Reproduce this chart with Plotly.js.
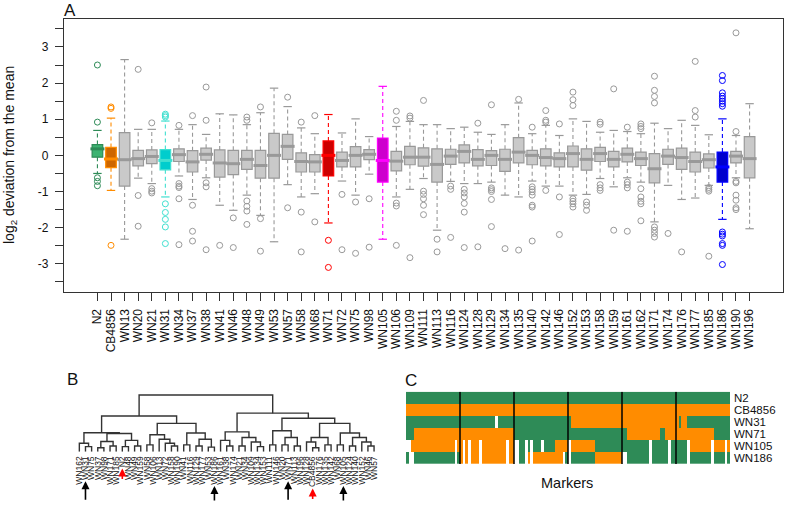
<!DOCTYPE html>
<html><head><meta charset="utf-8">
<script src="https://cdn.plot.ly/plotly-3.0.1.min.js"></script>
<style>html,body{margin:0;padding:0;background:#fff}#chart{width:786px;height:505px}</style>
</head><body><div id="chart"></div>
<script>
// ---------- Panel A data ----------
const strains = ["N2","CB4856","WN13","WN20","WN21","WN31","WN34","WN37","WN38","WN41","WN46","WN48","WN49","WN53","WN57","WN58","WN68","WN71","WN72","WN75","WN98","WN105","WN106","WN109","WN111","WN113","WN116","WN124","WN128","WN129","WN134","WN135","WN140","WN142","WN146","WN152","WN153","WN158","WN159","WN161","WN162","WN171","WN174","WN176","WN177","WN185","WN186","WN190","WN196"];
const q1  = [-0.05,-0.34,-0.85,-0.29,-0.23,-0.40,-0.17,-0.46,-0.13,-0.60,-0.53,-0.39,-0.63,-0.63,-0.11,-0.46,-0.46,-0.57,-0.32,-0.32,-0.12,-0.74,-0.43,-0.26,-0.30,-0.74,-0.25,-0.21,-0.29,-0.28,-0.44,-0.21,-0.26,-0.29,-0.32,-0.32,-0.41,-0.17,-0.32,-0.18,-0.28,-0.76,-0.25,-0.39,-0.46,-0.35,-0.74,-0.21,-0.62];
const med = [0.18,-0.10,-0.12,-0.09,-0.03,-0.14,0.02,-0.18,0.03,-0.21,-0.23,-0.11,-0.28,0.00,0.25,-0.17,-0.18,0.00,-0.14,0.00,0.03,-0.14,-0.16,-0.05,-0.05,-0.25,-0.02,0.11,-0.11,0.00,-0.11,0.09,0.00,-0.06,-0.09,0.05,-0.11,0.05,-0.11,0.03,-0.09,-0.37,-0.02,-0.06,-0.17,-0.12,-0.32,-0.02,-0.09];
const q3  = [0.30,0.22,0.63,0.14,0.15,0.16,0.18,0.13,0.20,0.15,0.14,0.14,0.14,0.61,0.58,0.07,0.02,0.40,0.09,0.24,0.16,0.48,0.11,0.25,0.21,0.18,0.17,0.29,0.16,0.13,0.17,0.49,0.14,0.18,0.07,0.26,0.18,0.22,0.11,0.20,0.09,0.05,0.17,0.20,0.09,0.04,0.09,0.11,0.52];
const whiskLo = [-0.50,-0.97,-2.32,-0.63,-0.78,-1.15,-0.57,-1.22,-0.62,-1.38,-1.52,-1.10,-1.66,-2.39,-0.81,-1.15,-1.06,-1.87,-0.71,-1.10,-0.52,-2.32,-1.15,-0.94,-0.64,-2.07,-0.72,-0.78,-0.78,-0.74,-1.10,-1.15,-0.71,-0.85,-0.85,-1.10,-1.08,-0.64,-0.87,-0.62,-0.74,-1.84,-0.83,-1.22,-1.18,-0.83,-1.77,-0.62,-2.03];
const whiskHi = [0.69,1.03,2.65,0.72,0.72,0.95,0.72,0.85,0.58,1.15,1.12,0.85,1.18,1.86,1.35,0.76,0.60,1.13,0.62,1.01,0.52,1.91,0.80,0.94,0.85,0.85,0.74,0.78,0.64,0.58,0.85,1.45,0.60,0.83,0.55,1.01,0.94,0.64,0.69,0.66,0.60,0.89,0.74,0.97,0.83,0.57,1.01,0.55,1.43];
const outliers = [
 [2.50,0.92,-0.62,-0.72,-0.84],
 [1.34,1.30,-2.49],
 [],
 [2.38,-1.11,-1.96],
 [0.90,-0.92,-0.99,-1.04],
 [1.14,1.06,1.10,-1.34,-1.58,-1.77,-1.98,-2.44],
 [0.83,-0.78,-0.85,-0.89,-1.20,-2.47],
 [1.10,-1.38,-2.10,-2.37],
 [1.89,0.97,-0.76,-0.87,-2.61],
 [-2.49],
 [-1.73,-2.55],
 [1.06,0.97,-1.26,-1.41,-1.54,-1.91],
 [1.34,-1.75,-2.65],
 [],
 [1.61,-1.45],
 [0.92,-1.57,-2.67],
 [1.10,-1.84],
 [-2.35,-3.10],
 [-1.08,-2.61],
 [-1.29,-2.71],
 [-1.20,-2.54],
 [],
 [1.22,0.97,-1.32,-1.40,-2.49],
 [1.09,1.03,-2.83],
 [1.52,-0.99,-1.08,-1.20,-1.38,-1.64],
 [-2.32,-2.67],
 [-0.85,-0.94,-2.27],
 [-0.94,-1.04,-1.15,-1.33,-1.57,-2.55],
 [0.89,-2.53],
 [1.40,-0.90,-0.95,-1.00,-1.22,-1.97],
 [-2.58],
 [1.55,-2.62],
 [0.78,-0.87,-0.94,-1.01,-1.10,-1.38,-1.43,-2.37],
 [1.24,0.97,0.92,-0.97],
 [0.87,-1.15,-2.19],
 [1.75,1.54,1.38,-1.20,-1.27,-1.34,-1.43],
 [-1.29,-1.38,-1.52],
 [0.92,0.86,-0.81,-0.90,-0.97],
 [1.84,-2.07],
 [0.78,-0.74,-0.81,-0.90,-2.10],
 [0.87,0.80,0.74,-0.92,-1.15,-1.27,-1.34,-1.81],
 [2.19,1.80,1.63,1.45,-1.98,-2.07,-2.16,-2.26],
 [-2.16],
 [-2.67],
 [2.60,1.24,1.06],
 [-0.89,-0.94,-0.99,-2.79],
 [2.21,2.07,1.73,1.64,1.57,1.50,1.43,1.36,-2.12,-2.18,-2.23,-2.44,-2.49,-3.02],
 [3.39,0.66,-0.72,-0.76,-1.10,-1.24,-1.45,-1.50],
 []
];
const yTickVals = [-3.5,-3,-2.5,-2,-1.5,-1,-0.5,0,0.5,1,1.5,2,2.5,3,3.5];
const yTickText = ["","-3","","-2","","-1","","0","","1","","2","","3",""];

// ---------- Panel B data ----------
const dendroLeaves = ["WN162","WN31","WN75","WN37","WN98","WN171","WN185","N2","WN48","WN49","WN159","WN58","WN106","WN13","WN72","WN158","WN190","WN41","WN116","WN129","WN177","WN53","WN186","WN161","WN38","WN174","WN21","WN34","WN109","WN134","WN153","WN111","WN146","WN20","WN71","WN113","WN196","WN128","CB4856","WN176","WN135","WN142","WN68","WN105","WN124","WN140","WN152","WN46","WN57"];
// nested merges: [height, left, right]; leaves are positions in dendroLeaves
const dendroTree =
 [1.00,
   [0.63,
     [0.335, [0.15, 0, [0.09, 1, 2]],
             [0.32, [0.18, [0.07, 3, 4], [0.10, 5, 6]], [0.20, [0.09, 7, 8], [0.10, 9, 10]]]],
     [0.50, [0.30, [0.12, 11, 12], [0.22, 13, [0.15, 14, [0.10, 15, 16]]]],
            [0.33, [0.12, 17, 18], [0.22, [0.10, 19, 20], [0.08, 21, 22]]]]],
   [0.68,
     [0.35, [0.20, 23, [0.10, 24, 25]], [0.25, [0.10, 26, 27], [0.17, 28, [0.09, 29, 30]]]],
     [0.59, [0.37, [0.12, 31, 32], [0.25, [0.12, 33, 34], [0.10, 35, 36]]],
            [0.50, [0.25, [0.17, 37, [0.07, 38, 39]], [0.12, 40, 41]],
                   [0.33, [0.12, 42, 43], [0.25, [0.10, 44, 45], [0.17, 46, [0.10, 47, 48]]]]]]]];
const arrowsBlack = ["WN31","WN186","WN71","WN105"];
const arrowsRed = ["N2","CB4856"];

// ---------- Panel C data ----------
const genoRows = ["N2","CB4856","WN31","WN71","WN105","WN186"];
const markersPerChrom = [20,20,20,20,20,20];
const genotypes = [
 "GGGGGGGGGGGGGGGGGGGG"+"GGGGGGGGGGGGGGGGGGGG"+"GGGGGGGGGGGGGGGGGGGG"+"GGGGGGGGGGGGGGGGGGGG"+"GGGGGGGGGGGGGGGGGGGG"+"GGGGGGGGGGGGGGGGGGGG",
 "OOOOOOOOOOOOOOOOOOOO"+"OOOOOOOOOOOOOOOOOOOO"+"OOOOOOOOOOOOOOOOOOOO"+"OOOOOOOOOOOOOOOOOOOO"+"OOOOOOOOOOOOOOOOOOOO"+"OOOOOOOOOOOOOOOOOOOO",
 "GGGGGGGGGGGGGGGGGGGG"+"GGGGGGGGGGGGG.GGGGGG"+"GGGGGGGGGGGGGGGGGGGG"+"GOOOOOOOOOOOOOOOOOOO"+"OOOOOOOOOOOOOOOOOOOO"+"OGOOGGGGGGGGGGGGGGGG",
 "GGGOOOOOOOOOOOOOOOOO"+"OOOOOOOOOOOOOOOOOOOO"+"GGGGGGGGGGGGGGGGGGGG"+"GGGGGGGGGGGGGGGGGGGG"+"GGOOOOOOOOOOOOGGOOOO"+"OOOOOOOOOOOOOOGGGGGG",
 "..OOOOOOOOOOOOOOOO.O"+"O.O.OOO.OOOOOOOOO.OO"+"..GG.G.GGG.GGGGOOOOO"+".OOOOOOOOOGGGGGGGGGG"+"GGGGGGGGGG.GGGGGG.GG"+"GGGG.OOOOOOOO.OOOO.O",
 "G..GGGGGGGGGGGGGGG.G"+"O.O.OOO.OOOOOOOOO.OO"+"..GG.O.OOOOOOOOOOO.G"+".GGGGGGGGGOOOOOOOOOO"+"..GGGGGGGG.GGGGGG.GG"+"GGGG.GGGGGGGG.GGGG.G"
];

// ---------- styles ----------
const FONT = 'Arial, "Liberation Sans", sans-serif';
const W = 786, H = 505;
const px = v => v / W, py = v => 1 - v / H;
const styleFor = {
  N2:     {fill:"#3cb371", line:"#2e8b57"},
  CB4856: {fill:"#cd6600", line:"#ff8c00"},
  WN31:   {fill:"#00cdcd", line:"#40e0d0"},
  WN71:   {fill:"#cd0000", line:"#ff0000"},
  WN105:  {fill:"#cd00cd", line:"#ff00ff"},
  WN186:  {fill:"#0000cd", line:"#0000ff"}
};
const defStyle = {fill:"#c9c9c9", line:"#999999"};
const dendroFontSize = 8.5;
const leafBottomPx = 451.7;

const traces = [];
const boxW = 0.78;
strains.forEach((s, i) => {
  const st = styleFor[s] || defStyle;
  traces.push({type:"box", x:[i], q1:[q1[i]], median:[med[i]], q3:[q3[i]],
    lowerfence:[q1[i]], upperfence:[q3[i]], width:boxW, boxpoints:false,
    fillcolor:st.fill, line:{color:st.line, width:1.2}, hoverinfo:"skip", showlegend:false});
});
strains.forEach((s, i) => {
  const st = styleFor[s] || defStyle;
  traces.push({type:"scatter", mode:"lines", x:[i,i,null,i,i], y:[q3[i],whiskHi[i],null,q1[i],whiskLo[i]],
    line:{color:st.line, width:1.1, dash:"4px,3px"}, hoverinfo:"skip", showlegend:false});
  traces.push({type:"scatter", mode:"markers", x:[i,i], y:[whiskHi[i],whiskLo[i]],
    marker:{symbol:"line-ew", size:6, line:{width:1.2, color:st.line}}, hoverinfo:"skip", showlegend:false});
  traces.push({type:"scatter", mode:"markers", x:[i], y:[med[i]],
    marker:{symbol:"line-ew", size:10, line:{width:3, color:st.line}}, hoverinfo:"skip", showlegend:false});
  if (outliers[i].length) traces.push({type:"scatter", mode:"markers", x:outliers[i].map(() => i), y:outliers[i],
    marker:{symbol:"circle-open", size:6, line:{width:1, color:st.line}, color:st.line}, hoverinfo:"skip", showlegend:false});
});

// dendrogram segments
const dx = [], dy = [];
function walk(node) {
  if (typeof node === "number") return {x:node, h:0};
  const [h, a, b] = node;
  const ca = walk(a), cb = walk(b);
  dx.push(ca.x, ca.x, cb.x, cb.x, null);
  dy.push(ca.h, h, h, cb.h, null);
  return {x:(ca.x + cb.x) / 2, h:h};
}
walk(dendroTree);
traces.push({type:"scatter", mode:"lines", x:dx, y:dy, xaxis:"x2", yaxis:"y2",
  line:{color:"#333333", width:1.4}, hoverinfo:"skip", showlegend:false});

// heatmap
const z = genotypes.map(r => r.split("").map(c => c === "G" ? 0 : c === "O" ? 1 : null));
const nMarkers = z[0].length;
traces.push({type:"heatmap", z:z, x:[...Array(nMarkers).keys()], y:[...Array(genoRows.length).keys()],
  xaxis:"x3", yaxis:"y3", zmin:0, zmax:1, showscale:false, hoverinfo:"skip",
  colorscale:[[0,"#2e8b57"],[0.5,"#2e8b57"],[0.5,"#ff8c00"],[1,"#ff8c00"]]});

const shapes = [];
let acc = 0;
markersPerChrom.slice(0, -1).forEach(n => {
  acc += n;
  shapes.push({type:"line", xref:"x3", yref:"y3", x0:acc - 0.5, x1:acc - 0.5, y0:-0.5, y1:genoRows.length - 0.5,
    line:{color:"#000", width:1.5}});
});

const lab = (text, x, y, size, extra) => Object.assign({text:text, x:px(x), y:py(y), xref:"paper", yref:"paper",
  xanchor:"center", yanchor:"middle", showarrow:false, font:{size:size, color:"#111"}}, extra || {});
const annotations = [
  lab("A", 70, 10, 17),
  lab("B", 72, 379, 17),
  lab("C", 411, 380, 17),
  lab("log<sub>2</sub> deviation from the mean", 10, 155, 14, {textangle:-90}),
  lab("Markers", 567, 483, 14.5)
];
// arrows sit just below each (rotated) leaf label
const ctx = document.createElement("canvas").getContext("2d");
ctx.font = dendroFontSize + "px Arial, 'Liberation Sans', sans-serif";
function addArrow(name, color, len) {
  const tip = leafBottomPx + 3 + ctx.measureText(name).width + 3;
  const tail = Math.min(tip + len, 502);
  annotations.push({x:dendroLeaves.indexOf(name), xref:"x2", y:py(tip), yref:"paper", text:"", showarrow:true,
    ax:0, ay:tail - tip, arrowhead:2, arrowsize:1, arrowwidth:1.6, arrowcolor:color});
}
arrowsBlack.forEach(n => addArrow(n, "#000", 20));
arrowsRed.forEach(n => addArrow(n, "#ff0000", 12));

const layout = {
  width:W, height:H, margin:{l:0, r:0, t:0, b:0}, paper_bgcolor:"#fff", plot_bgcolor:"rgba(0,0,0,0)",
  font:{family:FONT, color:"#111"}, showlegend:false, boxmode:"overlay",
  xaxis:{domain:[px(64), px(783)], range:[-2.46, strains.length + 1.46], tickmode:"array",
    tickvals:strains.map((s, i) => i), ticktext:strains, tickangle:-90, tickfont:{size:12},
    ticks:"outside", ticklen:8, tickcolor:"#333", showline:true, linecolor:"#333", linewidth:1.2, mirror:true,
    showgrid:false, zeroline:false, anchor:"y", ticklabelstandoff:3},
  yaxis:{domain:[py(292), py(19)], range:[-3.78, 3.773], tickmode:"array", tickvals:yTickVals, ticktext:yTickText,
    tickfont:{size:12}, ticks:"outside", ticklen:8, tickcolor:"#333", showline:true, linecolor:"#333", linewidth:1.2,
    mirror:true, showgrid:false, zeroline:false, anchor:"x", ticklabelstandoff:4},
  xaxis2:{domain:[px(73.2), px(380.2)], range:[-1, dendroLeaves.length], tickmode:"array",
    tickvals:dendroLeaves.map((s, i) => i), ticktext:dendroLeaves, tickangle:-90, tickfont:{size:dendroFontSize},
    ticks:"", showline:false, showgrid:false, zeroline:false, anchor:"y2", ticklabelstandoff:2},
  yaxis2:{domain:[py(leafBottomPx), py(393.9)], range:[0, 1.02], visible:false, anchor:"x2"},
  xaxis3:{domain:[px(406), px(730)], range:[-0.5, nMarkers - 0.5], visible:false, anchor:"y3"},
  yaxis3:{domain:[py(464), py(391.7)], range:[genoRows.length - 0.5, -0.5], tickmode:"array",
    tickvals:genoRows.map((s, i) => i), ticktext:genoRows, side:"right", tickfont:{size:11.5},
    ticks:"", showline:false, showgrid:false, zeroline:false, anchor:"x3", ticklabelstandoff:3},
  shapes:shapes, annotations:annotations
};
Plotly.newPlot("chart", traces, layout, {staticPlot:true, displayModeBar:false});
</script></body></html>
